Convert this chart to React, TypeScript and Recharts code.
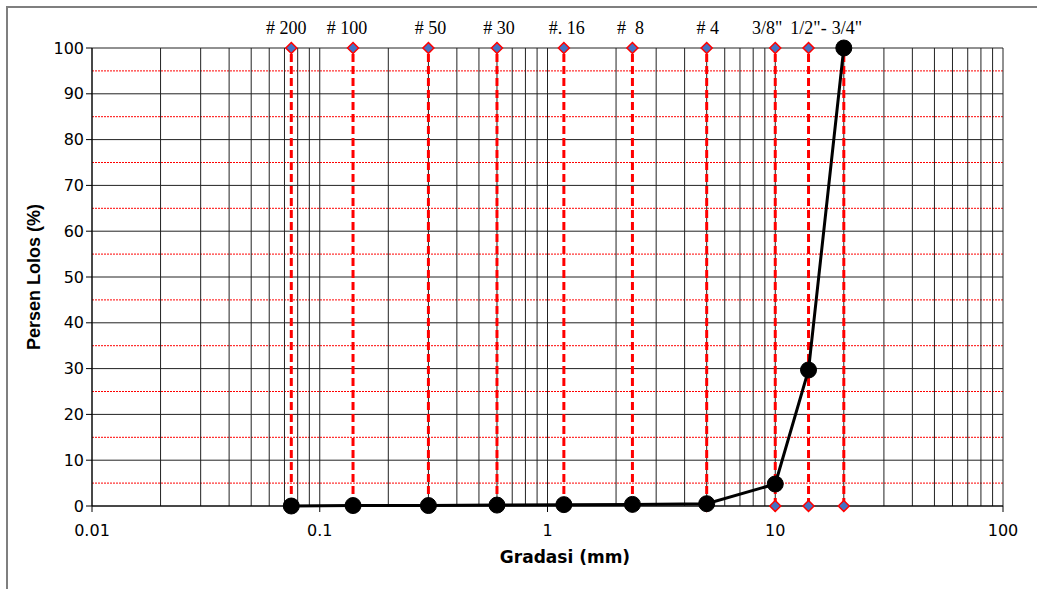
import { ComposedChart, Line, XAxis, YAxis, ReferenceLine } from "recharts";

// sieve openings (mm) as plotted, and % passing
const SIEVE_LABELS = ["# 200", "# 100", "# 50", "# 30", "#. 16", "#\u00a0\u00a08", "# 4", '3/8"', '1/2"-', '3/4"'];
const SIEVE_SIZES = [0.075, 0.14, 0.3, 0.6, 1.18, 2.36, 5, 10, 14, 20];
const PASSING = [0, 0.1, 0.1, 0.2, 0.3, 0.35, 0.5, 4.8, 29.7, 100];

const X_TICKS = [0.01, 0.1, 1, 10, 100];
const Y_TICKS = [0, 10, 20, 30, 40, 50, 60, 70, 80, 90, 100];
const Y_MINOR = [5, 15, 25, 35, 45, 55, 65, 75, 85, 95];
const DECADES = [0.01, 0.1, 1, 10];
const STEPS = [1, 2, 3, 4, 5, 6, 7, 8, 9];

// small nudges so the sieve names sit like the original
const LABEL_DX = [-5, -6, 2, 2, 3, -2, 1, -8, 0, 3];

const gridX = [...DECADES.flatMap((d) => STEPS.map((s) => Number((d * s).toPrecision(3)))), 100];
const gradation = SIEVE_SIZES.map((x, i) => ({ x, y: PASSING[i] }));

const tickFont = { fontFamily: "DejaVu Sans", fontSize: 16, fill: "#000" };

function Diamond(props: any) {
  const { cx, cy, key } = props;
  if (cx == null || cy == null) return null;
  const r = 5.5;
  return (
    <polygon
      key={key}
      points={`${cx},${cy - r} ${cx + r},${cy} ${cx},${cy + r} ${cx - r},${cy}`}
      fill="#4472c4"
      stroke="#ff0000"
      strokeWidth={1.5}
    />
  );
}

export default function App() {
  return (
    <div style={{ position: "absolute", left: 0, top: 0, width: 1037, height: 589, background: "#fff" }}>
      <div
        style={{
          position: "absolute",
          left: 6,
          top: 6,
          width: 1031,
          height: 583,
          borderLeft: "2px solid #7f7f7f",
          borderTop: "2px solid #7f7f7f",
        }}
      />
      <ComposedChart
        width={1037}
        height={589}
        margin={{ top: 48, right: 34, bottom: 23, left: 0 }}
        style={{ position: "absolute", left: 0, top: 0 }}
      >
        <XAxis
          type="number"
          dataKey="x"
          scale="log"
          domain={[0.01, 100]}
          ticks={X_TICKS}
          allowDataOverflow
          height={60}
          tickSize={6}
          tickMargin={13}
          tick={tickFont}
          axisLine={{ stroke: "#000" }}
          tickLine={{ stroke: "#000" }}
        />
        <YAxis
          type="number"
          domain={[0, 100]}
          ticks={Y_TICKS}
          width={92}
          tickSize={6}
          tickMargin={2}
          tick={tickFont}
          axisLine={{ stroke: "#000" }}
          tickLine={{ stroke: "#000" }}
        />
        {Y_MINOR.map((v) => (
          <ReferenceLine key={`m${v}`} y={v} stroke="#ff0000" strokeWidth={1} strokeDasharray="2 1" />
        ))}
        {gridX.map((v) => (
          <ReferenceLine key={`gx${v}`} x={v} stroke="#222" strokeWidth={1} />
        ))}
        {Y_TICKS.map((v) => (
          <ReferenceLine key={`gy${v}`} y={v} stroke="#222" strokeWidth={1} />
        ))}
        {SIEVE_SIZES.map((s, i) => (
          <ReferenceLine
            key={`l${s}`}
            x={s}
            stroke="none"
            label={{
              value: SIEVE_LABELS[i],
              position: "top",
              offset: 14,
              dx: LABEL_DX[i],
              fill: "#000",
              fontSize: 18,
              fontFamily: "Liberation Serif",
            }}
          />
        ))}
        {SIEVE_SIZES.map((s) => (
          <Line
            key={`d${s}`}
            data={[
              { x: s, y: 0 },
              { x: s, y: 100 },
            ]}
            dataKey="y"
            stroke="#ff0000"
            strokeWidth={3}
            strokeDasharray="8 4"
            dot={Diamond}
            activeDot={false}
            isAnimationActive={false}
          />
        ))}
        <Line
          data={gradation}
          dataKey="y"
          type="linear"
          stroke="#000"
          strokeWidth={3}
          dot={{ r: 8, fill: "#000", stroke: "#000", strokeWidth: 1 }}
          activeDot={false}
          isAnimationActive={false}
        />
        <text
          x={565}
          y={563}
          textAnchor="middle"
          fontFamily="DejaVu Sans"
          fontWeight="bold"
          fontSize={17}
          fill="#000"
        >
          Gradasi (mm)
        </text>
        <text
          x={40}
          y={277}
          transform="rotate(-90 40 277)"
          textAnchor="middle"
          fontFamily="Liberation Sans"
          fontWeight="bold"
          fontSize={18}
          fill="#000"
        >
          Persen Lolos (%)
        </text>
      </ComposedChart>
    </div>
  );
}
